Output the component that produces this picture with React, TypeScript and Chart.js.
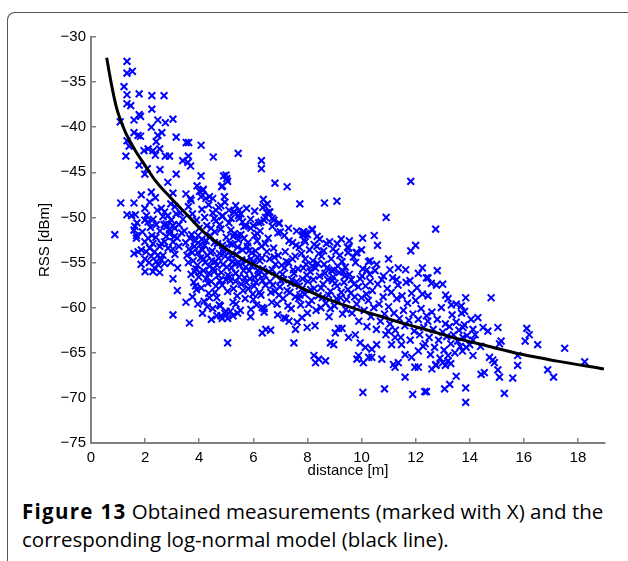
import { useEffect, useRef } from "react";
import { Chart, registerables } from "chart.js";

Chart.register(...registerables);

const X_MIN = 0;
const X_MAX = 19;
const X_STEP = 2;
const Y_MIN = -75;
const Y_MAX = -30;
const Y_STEP = 5;
const X_TITLE = "distance [m]";
const Y_TITLE = "RSS [dBm]";
const CAPTION_BOLD = "Figure 13";
const CAPTION_LINE1 = " Obtained measurements (marked with X) and the";
const CAPTION_LINE2 = "corresponding log-normal model (black line).";

// Log-normal model curve: distance [m] / RSS [dBm]
const modelDistance = [0.58, 0.74, 0.94, 1.25, 1.62, 1.99, 2.35, 2.97, 3.58, 4.2, 4.9, 5.6, 6.4, 7.2, 8.0, 8.8, 9.64, 10.63, 11.61, 12.46, 13.5, 14.73, 15.96, 17.18, 18.96];
const modelRss = [-32.3, -35.0, -37.8, -40.4, -42.5, -44.2, -45.8, -47.9, -49.8, -51.7, -53.3, -54.6, -55.8, -57.0, -58.1, -59.1, -60.0, -60.9, -61.8, -62.5, -63.4, -64.3, -65.2, -65.9, -66.8];

const measurements: [number, number][] = [
  [1.33,-32.7],[1.33,-34.0],[1.53,-33.8],[1.22,-35.5],[1.33,-36.4],[1.78,-36.3],[2.25,-36.5],[2.70,-36.5],[1.33,-37.4],[1.47,-37.6],
  [2.25,-38.0],[1.78,-38.6],[1.83,-38.8],[1.59,-39.2],[1.08,-39.4],[2.47,-39.2],[2.75,-39.5],[3.03,-39.1],[2.23,-40.0],[2.62,-40.6],
  [2.47,-40.9],[1.59,-40.6],[1.74,-40.9],[1.83,-41.0],[1.33,-41.5],[1.41,-42.1],[2.41,-41.6],[2.11,-42.4],[3.15,-41.1],[3.61,-41.7],
  [4.07,-42.0],[1.96,-42.6],[2.29,-42.6],[2.38,-43.1],[2.54,-42.4],[1.29,-43.2],[2.75,-43.2],[2.90,-43.2],[3.60,-43.2],[3.58,-43.9],
  [3.39,-43.7],[3.68,-44.3],[4.52,-43.3],[5.44,-42.9],[6.30,-43.7],[6.30,-44.6],[1.78,-44.2],[1.99,-45.2],[2.08,-44.6],[2.55,-44.7],
  [3.15,-45.2],[2.84,-46.1],[4.07,-45.4],[4.99,-45.3],[5.02,-45.7],[4.86,-46.5],[1.86,-47.5],[2.23,-47.2],[2.38,-47.8],[2.17,-48.3],
  [3.03,-47.3],[3.51,-47.4],[3.68,-47.9],[3.70,-48.1],[4.01,-47.1],[4.15,-46.9],[4.38,-47.7],[4.50,-47.9],[4.93,-47.7],[1.10,-48.4],
  [1.59,-48.4],[5.27,-49.4],[5.54,-49.6],[1.33,-49.7],[1.50,-49.8],[1.64,-49.7],[1.99,-49.0],[2.05,-49.8],[2.11,-50.5],[1.99,-50.3],
  [1.62,-51.0],[2.41,-50.8],[2.60,-49.0],[2.72,-49.4],[2.66,-49.9],[2.84,-49.8],[2.97,-50.3],[2.78,-50.7],[3.03,-50.9],[2.90,-51.4],
  [3.09,-51.2],[0.88,-51.9],[1.68,-52.0],[2.25,-52.0],[6.37,-48.0],[6.42,-48.7],[6.52,-48.5],[6.70,-50.1],[5.48,-49.2],[5.48,-50.1],
  [4.56,-50.1],[4.62,-49.2],[4.80,-48.7],[4.86,-49.8],[3.92,-46.5],[4.13,-47.0],[4.07,-47.7],[4.25,-47.9],[3.52,-41.7],[4.90,-45.4],
  [5.05,-46.0],[4.83,-46.6],[6.80,-46.2],[7.25,-46.6],[7.72,-48.5],[8.63,-48.4],[9.09,-48.2],[11.82,-46.0],[10.91,-50.0],[12.74,-51.3],
  [6.61,-49.4],[6.76,-50.3],[6.91,-51.7],[7.84,-51.6],[8.18,-51.3],[8.36,-52.1],[9.55,-52.6],[10.04,-52.3],[10.47,-52.0],[10.59,-53.1],
  [12.0,-53.1],[11.82,-53.7],[10.32,-54.8],[10.56,-55.2],[11.05,-55.8],[11.36,-55.6],[11.63,-55.8],[12.1,-56.2],[10.81,-56.5],[11.79,-57.0],
  [12.40,-56.7],[7.87,-51.6],[7.93,-51.8],[9.83,-53.9],[8.17,-51.4],[7.83,-51.9],[9.52,-53.4],[9.8,-53.9],[10.26,-54.9],
  [1.59,-51.4],[1.99,-52.7],[2.11,-52.3],[2.29,-52.9],[2.17,-53.4],[2.35,-53.8],[2.54,-53.2],[2.72,-52.7],[2.78,-52.1],[2.90,-51.8],
  [3.09,-52.1],[2.60,-54.7],[2.72,-55.1],[2.41,-54.9],[2.23,-54.3],[2.04,-53.8],[1.86,-53.6],[1.74,-53.8],[1.59,-54.0],[1.99,-54.6],
  [2.35,-55.6],[2.29,-56.0],[2.54,-56.1],[3.03,-53.5],[3.03,-52.7],[3.19,-52.3],[2.66,-54.2],[2.47,-54.2],[1.68,-52.3],
  [3.03,-56.8],[3.19,-58.1],[3.51,-59.4],[3.03,-60.8],[3.64,-61.7],[5.05,-63.9],[4.38,-58.9],[4.74,-59.7],[4.80,-60.9],[4.99,-60.4],
  [5.42,-60.6],[5.91,-60.2],[6.33,-60.0],[6.33,-62.8],[2.3,-50.2],[2.45,-49.2],[2.55,-51.5],[2.7,-50.8],[3.15,-49.6],[3.25,-50.8],
  [3.35,-51.7],[3.1,-48.8],[2.95,-48.5],[5.29,-49.4],[5.91,-51.2],[6.28,-50.5],[6.15,-51.8],[5.72,-50.9],[5.17,-51.4],[5.42,-52.0],
  [6.58,-49.4],[6.95,-50.7],
  [3.45,-51.5],[3.5,-52.8],[3.55,-54.2],[3.6,-55.0],[3.62,-53.5],[3.7,-56.3],[3.72,-51.9],[3.78,-54.8],[3.8,-57.2],[3.85,-52.6],
  [3.88,-55.7],[3.9,-58.0],[3.95,-53.9],[3.98,-56.6],[4.0,-51.2],[4.05,-54.5],[4.08,-57.8],[4.1,-52.4],[4.15,-55.9],[4.18,-59.3],
  [4.2,-53.1],[4.25,-56.8],[4.28,-50.9],[4.3,-54.2],[4.35,-58.4],[4.38,-55.4],[4.4,-52.0],[4.45,-57.1],[4.48,-53.7],[4.5,-60.1],
  [4.55,-56.0],[4.58,-51.6],[4.6,-54.9],[4.65,-58.9],[4.68,-52.9],[4.7,-56.4],[4.75,-54.0],[4.78,-59.8],[4.8,-51.3],[4.85,-57.5],
  [4.88,-55.2],[4.9,-53.4],[4.95,-60.6],[4.98,-56.9],[5.0,-52.2],[5.05,-58.2],[5.08,-54.6],[5.1,-50.6],[5.15,-57.0],[5.2,-55.6],
  [5.22,-53.0],[5.25,-59.4],[5.3,-51.8],[5.35,-56.2],[5.38,-54.1],[5.4,-58.7],[5.45,-52.5],[5.5,-55.3],[5.52,-60.3],[5.55,-57.4],
  [5.6,-53.6],[5.65,-51.0],[5.68,-56.7],[5.7,-59.0],[5.75,-54.8],[5.8,-52.8],[5.82,-57.9],[5.85,-55.9],[5.9,-61.0],[5.95,-53.9],
  [5.98,-58.5],[6.02,-55.1],[6.05,-52.0],[6.1,-57.2],[6.12,-59.7],[6.15,-54.4],[6.2,-56.3],[6.25,-51.5],[6.28,-58.6],[6.3,-53.2],
  [6.35,-55.7],[6.4,-60.5],[6.45,-57.5],
  [3.6,-48.8],[3.75,-49.6],[3.9,-50.3],[4.1,-49.1],[4.2,-50.0],[4.35,-48.6],[4.5,-49.5],[4.62,-50.4],[4.72,-48.9],[4.85,-49.9],
  [4.95,-48.3],[5.1,-49.2],[5.18,-50.1],[5.35,-48.7],[5.45,-49.8],[5.6,-50.5],[5.75,-49.0],[5.9,-50.2],[6.05,-49.3],[6.2,-50.6],
  [6.35,-48.9],[6.45,-50.0],[3.4,-50.2],[3.3,-49.5],
  [3.82,-53.2],[3.93,-55.3],[4.02,-56.1],[4.12,-53.6],[4.22,-55.0],[4.32,-57.3],[4.42,-53.9],[4.52,-55.7],[4.62,-57.6],[4.72,-54.5],
  [4.82,-56.1],[4.92,-53.8],[5.02,-55.5],[5.12,-56.6],[5.17,-54.2],[5.27,-57.9],[5.32,-55.1],[5.42,-53.3],[5.47,-56.6],[5.57,-54.7],
  [5.62,-58.1],[5.72,-55.5],[5.78,-53.2],[5.87,-56.8],[5.92,-54.6],[6.03,-57.6],[6.08,-53.7],[6.17,-55.9],[6.23,-58.3],[6.32,-54.5],
  [6.42,-56.4],[6.5,-53.8],
  [3.66,-52.3],[3.74,-53.9],[3.84,-56.0],[3.96,-52.0],[4.04,-53.0],[4.16,-54.6],[4.26,-52.6],[4.36,-56.2],[4.46,-54.8],[4.56,-52.8],
  [4.66,-55.3],[4.76,-57.0],[4.86,-53.1],[4.96,-54.3],[5.06,-56.4],[5.14,-52.9],[5.24,-54.9],[5.34,-57.1],[5.44,-55.0],[5.54,-51.9],
  [5.64,-55.9],[5.74,-57.2],[5.84,-53.7],[5.94,-55.4],[6.04,-56.6],[6.14,-52.6],[6.24,-54.8],[6.34,-57.0],[6.44,-52.9],[4.44,-51.2],
  [4.76,-50.8],[5.26,-52.1],[5.66,-52.3],[6.0,-50.9],[3.86,-57.6],[4.58,-58.3],[5.36,-59.6],[6.0,-59.1],
  [1.7,-50.6],[1.9,-51.6],[2.2,-51.1],[2.4,-52.2],[2.6,-52.9],[2.85,-53.4],[3.1,-54.1],[3.25,-53.2],[2.95,-55.0],[2.5,-55.3],
  [2.15,-55.0],[1.85,-55.2],[2.0,-56.0],[2.8,-51.0],[3.2,-55.6],
  [3.75,-58.8],[3.95,-59.6],[4.12,-60.6],[4.3,-59.9],[4.45,-61.3],[4.65,-60.9],[4.85,-61.2],[5.05,-61.2],[5.25,-60.9],[5.15,-60.4],
  [6.55,-52.3],[6.6,-54.6],[6.62,-57.1],[6.68,-59.4],[6.7,-55.8],[6.75,-53.4],[6.8,-58.2],[6.85,-56.4],[6.9,-60.8],[6.92,-54.2],
  [6.98,-57.7],[7.0,-51.6],[7.05,-55.3],[7.1,-59.0],[7.12,-56.9],[7.18,-53.8],[7.2,-61.2],[7.25,-58.1],[7.3,-55.0],[7.32,-52.6],
  [7.38,-57.3],[7.4,-60.1],[7.45,-54.6],[7.5,-56.2],[7.55,-58.8],[7.58,-53.1],[7.62,-61.6],[7.65,-55.7],[7.7,-57.6],[7.75,-59.7],
  [7.78,-54.0],[7.82,-56.8],[7.88,-52.5],[7.9,-58.5],[7.95,-55.2],[8.0,-60.6],[8.02,-57.1],[8.08,-53.6],[8.1,-56.0],[8.15,-59.2],
  [8.2,-54.8],[8.25,-57.9],[8.28,-62.0],[8.3,-55.6],[8.35,-53.2],[8.4,-58.7],[8.45,-56.5],[8.5,-60.0],[8.52,-54.3],[8.58,-57.4],
  [8.62,-55.2],[8.68,-59.5],[8.7,-52.9],[8.75,-56.9],[8.8,-61.0],[8.85,-58.2],[8.88,-54.6],[8.92,-57.0],[8.98,-55.8],[9.0,-59.8],
  [9.05,-53.8],[9.1,-57.6],[9.15,-62.3],[9.18,-56.1],[9.22,-58.9],[9.28,-54.9],[9.3,-60.7],[9.35,-57.2],[9.4,-55.5],[9.45,-59.1],
  [9.48,-53.3],
  [6.65,-58.3],[6.78,-54.4],[6.88,-59.6],[7.02,-57.0],[7.15,-55.6],[7.28,-59.8],[7.42,-56.9],[7.55,-54.3],[7.68,-59.0],[7.8,-57.9],
  [7.92,-54.6],[8.05,-59.6],[8.18,-55.4],[8.32,-60.3],[8.42,-54.0],[8.55,-58.9],[8.72,-55.6],[8.85,-60.1],[8.95,-56.6],[9.08,-59.0],
  [9.2,-54.2],[9.32,-56.0],[9.42,-60.2],
  [6.4,-50.3],[6.5,-49.5],[6.7,-51.0],[6.95,-50.6],[7.15,-52.0],[7.3,-51.2],[7.45,-52.8],[7.6,-51.5],[7.7,-53.3],[7.92,-52.7],
  [8.0,-51.9],[8.25,-53.0],[8.45,-52.4],[8.6,-53.7],[8.82,-52.7],[8.95,-53.5],[9.1,-52.9],[9.25,-52.4],[9.5,-53.9],
  [6.58,-56.0],[6.72,-57.5],[6.82,-55.2],[6.95,-58.6],[7.08,-56.3],[7.22,-54.9],[7.35,-58.3],[7.48,-55.8],[7.6,-57.1],[7.72,-58.6],
  [7.85,-55.6],[7.98,-56.4],[8.12,-58.0],[8.22,-56.9],[8.38,-55.1],[8.5,-57.8],[8.65,-56.2],[8.78,-58.6],[8.9,-55.9],[9.02,-57.3],
  [9.12,-55.4],[9.25,-58.3],[9.38,-56.5],[9.5,-58.0],[9.62,-56.9],[9.75,-58.8],[9.88,-57.7],[10.02,-56.5],[10.18,-58.5],[10.32,-57.1],
  [6.40,-60.1],[6.46,-62.4],[6.64,-62.5],[7.50,-63.9],[8.24,-65.3],[8.42,-65.7],[8.67,-65.9],[8.30,-66.1],[8.85,-63.9],[8.97,-64.1],
  [9.83,-65.7],[10.07,-66.1],[10.38,-65.5],[10.75,-65.7],[11.18,-66.3],[11.24,-66.6],[11.36,-66.1],[11.61,-67.7],[12.10,-66.6],
  [10.05,-69.4],[10.85,-69.0],[11.89,-69.6],[12.34,-69.3],
  [7.13,-61.1],[7.32,-61.5],[7.56,-62.4],[7.8,-61.1],[7.99,-62.2],
  [9.03,-62.8],[9.28,-62.3],[9.52,-63.3],[9.77,-63.0],[9.95,-63.9],[10.14,-64.4],[10.38,-64.6],[10.56,-64.1],[10.26,-65.5],[9.89,-65.3],
  [10.99,-62.6],[11.24,-63.3],[11.48,-64.1],[11.61,-65.2],[11.85,-65.5],[12.1,-64.8],[12.28,-64.3],[11.97,-66.6],[11.11,-64.1],
  [9.55,-56.3],[9.6,-58.4],[9.65,-60.6],[9.72,-57.4],[9.78,-55.0],[9.82,-59.6],[9.9,-61.5],[9.95,-56.8],[10.0,-58.9],[10.05,-55.7],
  [10.1,-60.3],[10.15,-57.6],[10.2,-62.1],[10.25,-59.2],[10.3,-56.3],[10.35,-61.0],[10.4,-58.1],[10.45,-60.0],[10.5,-55.9],[10.55,-62.4],
  [10.6,-57.4],[10.65,-59.6],[10.7,-61.5],[10.75,-56.9],[10.8,-58.8],[10.85,-60.7],[10.9,-63.0],[10.95,-57.9],[11.0,-59.9],[11.05,-61.8],
  [11.1,-58.3],[11.15,-56.7],[11.2,-60.6],[11.25,-62.5],[11.3,-59.0],[11.35,-57.5],[11.4,-61.2],[11.45,-63.3],[11.5,-58.7],[11.55,-60.3],
  [11.6,-62.0],[11.65,-57.2],[11.7,-59.5],[11.75,-61.4],[11.8,-63.6],[11.85,-58.4],[11.9,-60.7],[11.95,-62.6],[12.0,-59.2],[12.05,-57.8],
  [12.1,-61.3],[12.15,-63.0],[12.2,-60.1],[12.25,-58.5],[12.3,-62.2],[12.35,-64.0],[12.4,-60.9],
  [9.7,-54.4],[10.0,-53.6],[10.2,-55.8],[11.0,-54.6],[11.3,-56.9],[12.25,-55.6],[12.8,-55.9],[13.0,-57.4],
  [12.46,-56.7],[12.58,-57.3],[12.77,-57.5],[12.46,-58.7],[13.11,-58.6],[13.20,-59.0],[13.85,-58.9],[14.79,-58.9],[13.32,-59.7],[13.50,-59.6],
  [13.69,-59.8],[13.81,-60.4],[14.3,-61.1],[14.05,-61.3],[13.75,-62.2],[14.12,-62.4],[14.49,-62.2],[14.67,-62.6],[15.04,-62.2],[16.11,-62.3],
  [16.2,-63.0],[16.05,-63.7],[15.16,-63.7],[15.1,-64.0],[16.51,-64.1],[17.51,-64.5],[18.25,-66.0],[14.12,-63.6],[13.87,-64.4],[13.73,-64.8],
  [14.12,-65.3],[14.73,-65.5],[14.91,-66.1],[14.85,-65.8],[15.77,-65.3],[15.77,-66.4],[15.04,-66.9],[15.1,-67.7],[15.59,-67.8],[16.88,-66.9],
  [17.1,-67.7],[14.42,-67.4],[14.54,-67.2],[13.5,-67.6],[13.07,-69.0],[13.26,-68.5],[13.85,-68.9],[12.4,-69.3],[15.28,-69.5],[13.85,-70.5],
  [12.6,-66.8],[12.75,-66.4],[13.0,-66.1],[13.2,-65.9],[13.3,-66.2],[13.1,-66.4],
  [12.45,-61.5],[12.5,-63.3],[12.55,-65.2],[12.6,-60.5],[12.65,-62.4],[12.7,-64.4],[12.75,-66.3],[12.8,-61.3],[12.85,-63.6],[12.9,-65.6],
  [12.95,-60.0],[13.0,-62.7],[13.05,-64.7],[13.1,-61.8],[13.15,-63.2],[13.2,-65.3],[13.25,-62.1],[13.3,-64.0],[13.35,-60.8],[13.4,-63.0],
  [13.45,-65.0],[13.5,-61.6],[13.55,-63.7],[13.6,-62.5],[13.65,-64.3],[13.7,-60.6],[13.75,-63.3],[13.8,-61.9],[13.9,-63.1],[14.0,-64.1],
  [14.2,-63.0],[14.4,-64.3]
];

const TICK_FONT = { family: "'Liberation Sans', Arial, Helvetica, sans-serif", size: 15 };
const AXIS_GRAY = "#808080";

export default function App() {
  const canvasRef = useRef<HTMLCanvasElement | null>(null);

  useEffect(() => {
    const canvas = canvasRef.current;
    if (!canvas) return;
    const minus = (v: number | string) => String(v).replace("-", "\u2212");
    const chart = new Chart(canvas, {
      type: "scatter",
      data: {
        datasets: [
          {
            label: "model",
            data: modelDistance.map((d, i) => ({ x: d, y: modelRss[i] })),
            showLine: true,
            borderColor: "#000000",
            backgroundColor: "#000000",
            borderWidth: 3,
            pointRadius: 0,
            cubicInterpolationMode: "monotone",
            order: 0,
          },
          {
            label: "measurements",
            data: measurements.map(([d, r]) => ({ x: d, y: r })),
            showLine: false,
            pointStyle: "crossRot",
            pointRadius: 4.8,
            pointBorderWidth: 2,
            borderWidth: 2,
            borderColor: "#0000ff",
            backgroundColor: "#0000ff",
            order: 1,
          },
        ],
      },
      options: {
        animation: false,
        responsive: false,
        maintainAspectRatio: false,
        layout: { padding: { left: 30, right: 23, top: 37, bottom: 0 } },
        plugins: { legend: { display: false }, tooltip: { enabled: false } },
        scales: {
          x: {
            type: "linear",
            position: "bottom",
            min: X_MIN,
            max: X_MAX,
            afterFit: (s: any) => { s.height = 47; },
            ticks: {
              stepSize: X_STEP,
              includeBounds: false,
              font: TICK_FONT,
              color: "#000000",
              padding: 11,
              maxRotation: 0,
              callback: (v: any) => minus(v),
            },
            grid: { drawOnChartArea: false, drawTicks: true, tickLength: -5, color: AXIS_GRAY, lineWidth: 1.5 },
            border: { display: true, color: AXIS_GRAY, width: 2 },
            title: { display: true, text: X_TITLE, font: TICK_FONT, color: "#000000", padding: { top: 0, bottom: 10 } },
          },
          y: {
            type: "linear",
            position: "left",
            min: Y_MIN,
            max: Y_MAX,
            afterFit: (s: any) => { s.width = 61; },
            ticks: {
              stepSize: Y_STEP,
              font: TICK_FONT,
              color: "#000000",
              padding: 10,
              callback: (v: any) => minus(v),
            },
            grid: { drawOnChartArea: false, drawTicks: true, tickLength: -5, color: AXIS_GRAY, lineWidth: 1.5 },
            border: { display: true, color: AXIS_GRAY, width: 2 },
            title: { display: true, text: Y_TITLE, font: TICK_FONT, color: "#000000", padding: { top: 6, bottom: 0 } },
          },
        },
      },
    } as any);
    return () => chart.destroy();
  }, []);

  return (
    <div style={{ position: "fixed", left: 0, top: 0, width: 628, height: 561, background: "#ffffff", overflow: "hidden" }}>
      <div
        style={{
          position: "absolute",
          left: 7,
          top: 12,
          width: 700,
          height: 700,
          borderLeft: "1.5px solid #555555",
          borderTop: "1.5px solid #555555",
          borderTopLeftRadius: 8,
          boxSizing: "border-box",
        }}
      />
      <canvas ref={canvasRef} width={628} height={490} style={{ position: "absolute", left: 0, top: 0, width: 628, height: 490 }} />
      <div
        style={{
          position: "absolute",
          left: 22,
          top: 497,
          fontFamily: "'Open Sans', 'Noto Sans', sans-serif",
          fontSize: 20.5,
          lineHeight: "28px",
          color: "#000000",
          whiteSpace: "nowrap",
        }}
      >
        <div><b style={{ fontWeight: 700, letterSpacing: "1.3px" }}>{CAPTION_BOLD}</b>{CAPTION_LINE1}</div>
        <div>{CAPTION_LINE2}</div>
      </div>
    </div>
  );
}
